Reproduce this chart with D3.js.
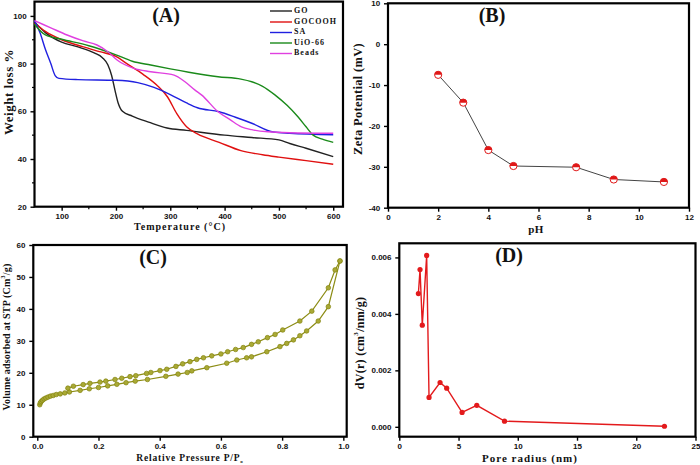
<!DOCTYPE html>
<html><head><meta charset="utf-8">
<script src="https://cdn.jsdelivr.net/npm/d3@7"></script>
<style>body{margin:0;background:#fff}svg{display:block}</style>
</head><body><svg id="c" width="700" height="465"></svg>
<script>
// ---------- Panel A: TGA (Temperature °C, Weight %) ----------
const tgaGO = [[50,97.5],[70,93],[100,89],[130,87],[160,84.5],[175,82.5],[185,79.5],[192,75],[198,69],[204,63.5],[212,60],[230,58],[260,55.5],[294,53],[330,52],[400,50],[450,49],[500,48],[520,46.5],[550,44.5],[600,41]];
const tgaGOCOOH = [[50,97],[70,93.5],[100,90],[140,87],[170,85],[200,83],[220,80],[250,75.5],[275,71],[295,66],[312,59],[330,53.5],[350,50.5],[390,47],[430,43.5],[470,41.8],[500,40.8],[550,39.3],[600,37.8]];
const tgaSA = [[50,98],[60,93],[70,86],[80,80],[88,75],[95,73.8],[130,73.3],[200,73],[240,72],[270,70],[300,67],[330,63.5],[350,61.5],[390,59.8],[420,57.5],[450,55],[490,51.3],[520,50.8],[600,50.2]];
const tgaUiO = [[50,96.5],[70,92],[100,90.2],[150,87.5],[200,83.7],[230,81],[264,79.4],[300,77.8],[334,76.4],[388,74.5],[430,73.5],[450,72.4],[470,70.5],[492,67],[515,62.5],[535,57.7],[550,53.5],[563,50],[580,48.3],[600,47]];
const tgaBeads = [[50,98],[80,95],[110,92],[140,89.5],[165,87.8],[185,85],[202,81.5],[233,78],[264,76.6],[307,75.2],[327,72.4],[345,69],[358,66.8],[388,59.8],[410,56.5],[431,53.5],[450,52.3],[480,51.4],[520,51],[600,50.8]];
const tgaNames = ["GO","GOCOOH","SA","UiO-66","Beads"];
const tgaColors = ["#222222","#e01010","#2020e0","#1a8a1a","#e040e0"];
const tgaXTicks = [100,200,300,400,500,600];
const tgaYTicks = [20,40,60,80,100];

// ---------- Panel B: Zeta potential ----------
const zetaPH = [2,3,4,5,7.5,9,11];
const zetaMV = [-7.5,-14.3,-25.9,-29.8,-30.1,-33.1,-33.7];
const zetaXTicks = [0,2,4,6,8,10,12];
const zetaYTicks = [-40,-30,-20,-10,0,10];

// ---------- Panel C: N2 isotherm ----------
const isoAds = [[0.008,10.0],[0.01,10.6],[0.013,11.0],[0.017,11.4],[0.022,11.8],[0.028,12.1],[0.035,12.4],[0.043,12.7],[0.052,12.9],[0.062,13.2],[0.075,13.4],[0.09,13.7],[0.105,14.0],[0.14,14.5],[0.17,15.0],[0.2,15.4],[0.23,15.9],[0.26,16.4],[0.29,16.9],[0.32,17.4],[0.36,17.9],[0.42,18.9],[0.46,19.6],[0.49,20.1],[0.505,20.6],[0.554,21.6],[0.619,23.0],[0.652,24.0],[0.684,24.7],[0.7,25.0],[0.75,26.6],[0.793,28.2],[0.815,29.2],[0.837,30.3],[0.858,31.6],[0.88,33.1],[0.918,36.2],[0.951,40.7],[0.989,55.0]];
const isoDes = [[0.989,55.0],[0.973,52.2],[0.951,46.6],[0.897,39.3],[0.858,36.2],[0.802,33.4],[0.777,32.0],[0.752,31.0],[0.722,29.7],[0.7,28.9],[0.673,27.9],[0.648,27.3],[0.622,26.6],[0.6,25.9],[0.57,25.3],[0.543,24.7],[0.521,24.2],[0.499,23.5],[0.475,22.8],[0.453,22.0],[0.423,21.1],[0.401,20.7],[0.371,20.1],[0.357,19.8],[0.322,19.1],[0.303,18.8],[0.276,18.3],[0.254,17.9],[0.224,17.4],[0.205,17.1],[0.172,16.7],[0.15,16.3],[0.118,15.8],[0.1,15.2]];
const isoXTicks = [0,0.2,0.4,0.6,0.8,1.0];
const isoYTicks = [0,10,20,30,40,50,60];

// ---------- Panel D: pore size distribution ----------
const poreR = [1.61,1.75,1.94,2.31,2.51,3.44,4.0,5.3,6.54,8.88,22.38];
const poreDV = [0.00472,0.00557,0.0036,0.00607,0.00104,0.00157,0.00137,0.00051,0.00076,0.0002,0.00002];
const poreXTicks = [0,5,10,15,20,25];
const poreYTicks = [0,0.002,0.004,0.006];

const svg = d3.select("#c");
const SERIF = "'Liberation Serif','Times New Roman',serif";
const SANS = "'Liberation Sans',Arial,sans-serif";

function panel(o){
  const x = d3.scaleLinear().domain(o.xd).range(o.xr);
  const y = d3.scaleLinear().domain(o.yd).range(o.yr);
  const g = svg.append("g");
  if(o.xMinor){
    g.selectAll(null).data(o.xMinor).join("line")
      .attr("x1",d=>x(d)).attr("x2",d=>x(d)).attr("y1",o.yr[0]).attr("y2",o.yr[0]+2.5)
      .attr("stroke","#000").attr("stroke-width",1.2);
  }
  if(o.yMinor){
    g.selectAll(null).data(o.yMinor).join("line")
      .attr("y1",d=>y(d)).attr("y2",d=>y(d)).attr("x1",o.xr[0]).attr("x2",o.xr[0]-2.5)
      .attr("stroke","#000").attr("stroke-width",1.2);
  }
  const ax = g.append("g").attr("transform",`translate(0,${o.yr[0]})`)
    .call(d3.axisBottom(x).tickValues(o.xt).tickSize(4).tickPadding(2).tickSizeOuter(0).tickFormat(o.xf||(d=>String(d))));
  const ay = g.append("g").attr("transform",`translate(${o.xr[0]},0)`)
    .call(d3.axisLeft(y).tickValues(o.yt).tickSize(4).tickSizeOuter(0).tickFormat(o.yf||(d=>String(d))));
  [ax,ay].forEach(a=>{
    a.select(".domain").remove();
    a.selectAll(".tick line").attr("stroke","#000").attr("stroke-width",1.4);
    a.selectAll(".tick text").attr("font-family",SANS).attr("font-weight","bold").attr("font-size","8px").attr("fill","#111");
  });
  ax.selectAll(".tick text").attr("dy","0.8em");
  ay.selectAll(".tick text").attr("dx","-0.1em");
  g.append("rect").attr("x",o.xr[0]).attr("y",o.yr[1])
    .attr("width",o.xr[1]-o.xr[0]).attr("height",o.yr[0]-o.yr[1])
    .attr("fill","none").attr("stroke","#000").attr("stroke-width",2.2);
  return {x,y,g};
}
function label(txt,x,y,size,rot,ls){
  const t = svg.append("text").attr("x",0).attr("y",0)
    .attr("transform",`translate(${x},${y})`+(rot?" rotate(-90)":""))
    .attr("text-anchor","middle").attr("dominant-baseline","middle")
    .attr("font-family",SERIF).attr("font-weight","bold").attr("font-size",size+"px")
    .attr("letter-spacing",(ls||0)+"px").attr("fill","#111");
  return t.text(txt);
}

// ----- Panel A -----
const A = panel({xd:[50,618],xr:[34.5,343],yd:[20,106],yr:[206.7,1.6],
  xt:tgaXTicks,yt:tgaYTicks,xMinor:[150,250,350,450,550],yMinor:[30,50,70,90]});
const tgaAll = [tgaGO,tgaGOCOOH,tgaSA,tgaUiO,tgaBeads];
const lineA = d3.line().x(d=>A.x(d[0])).y(d=>A.y(d[1])).curve(d3.curveMonotoneX);
tgaAll.forEach((s,i)=>{
  A.g.append("path").attr("d",lineA(s)).attr("fill","none")
    .attr("stroke",tgaColors[i]).attr("stroke-width",1.4);
});
const legRows = [11,22,32.5,43,53.5];
tgaNames.forEach((n,i)=>{
  A.g.append("line").attr("x1",270).attr("x2",292).attr("y1",legRows[i]).attr("y2",legRows[i])
    .attr("stroke",tgaColors[i]).attr("stroke-width",1.4);
  A.g.append("text").attr("x",294).attr("y",legRows[i]).attr("dominant-baseline","middle")
    .attr("font-family",SERIF).attr("font-weight","bold").attr("font-size","8px")
    .attr("letter-spacing","1px").attr("fill","#111").text(n);
});
label("(A)",166,17,20,false,0);
label("Weight loss %",10,92,13,true,0.5);
label("Temperature (°C)",180,228,10,false,1);

// ----- Panel B -----
const B = panel({xd:[0,12],xr:[388,689],yd:[-40,10],yr:[207.7,3.3],xt:zetaXTicks,yt:zetaYTicks});
const zetaPts = zetaPH.map((p,i)=>[p,zetaMV[i]]);
B.g.append("path").attr("d",d3.line().x(d=>B.x(d[0])).y(d=>B.y(d[1]))(zetaPts))
  .attr("fill","none").attr("stroke","#444").attr("stroke-width",1);
const r = 3.6;
zetaPts.forEach(d=>{
  const cx=B.x(d[0]), cy=B.y(d[1]);
  B.g.append("circle").attr("cx",cx).attr("cy",cy).attr("r",r).attr("fill","#fff").attr("stroke","#e01818").attr("stroke-width",1);
  B.g.append("path").attr("d",`M${cx-r},${cy} A${r},${r} 0 0 1 ${cx+r},${cy} Z`).attr("fill","#e01818");
});
label("(B)",492,17,20,false,0);
label("Zeta Potential (mV)",359,99,12.5,true,0.3);
label("pH",536,230,11,false,0.5);

// ----- Panel C -----
const C = panel({xd:[-0.013,1.011],xr:[33.3,346.7],yd:[0,60],yr:[436.7,245],xt:isoXTicks,yt:isoYTicks,xf:d3.format(".1f")});
const lineC = d3.line().x(d=>C.x(d[0])).y(d=>C.y(d[1]));
[isoAds,isoDes].forEach(s=>{
  C.g.append("path").attr("d",lineC(s)).attr("fill","none").attr("stroke","#8c8c14").attr("stroke-width",1.2);
  C.g.selectAll(null).data(s).join("circle").attr("cx",d=>C.x(d[0])).attr("cy",d=>C.y(d[1]))
    .attr("r",2.3).attr("fill","#a9a935").attr("stroke","#84840f").attr("stroke-width",0.7);
});
label("(C)",153,259,20,false,0);
const lc = label("",8,337,10,true,0.2);
lc.append("tspan").text("Volume adsorbed at STP (Cm");
lc.append("tspan").attr("font-size","6px").attr("dy","-4").text("3");
lc.append("tspan").attr("dy","4").text("/g)");
const lx = label("",190,458.5,9.5,false,0.8);
lx.append("tspan").text("Relative Pressure P/P");
lx.append("tspan").attr("font-size","5px").attr("dy","3").text("o");

// ----- Panel D -----
const D = panel({xd:[0,25],xr:[399.3,695.5],yd:[-0.00035,0.0065],yr:[436.7,243.3],xt:poreXTicks,yt:poreYTicks,yf:d3.format(".3f")});
const porePts = poreR.map((p,i)=>[p,poreDV[i]]);
D.g.append("path").attr("d",d3.line().x(d=>D.x(d[0])).y(d=>D.y(d[1]))(porePts))
  .attr("fill","none").attr("stroke","#e31a1c").attr("stroke-width",1.4);
D.g.selectAll(null).data(porePts).join("circle").attr("cx",d=>D.x(d[0])).attr("cy",d=>D.y(d[1]))
  .attr("r",2.6).attr("fill","#e31a1c");
label("(D)",509,257,20,false,0);
const ld = label("",361,343,12,true,0.3);
ld.append("tspan").text("dV(r) (cm");
ld.append("tspan").attr("font-size","7px").attr("dy","-5").text("3");
ld.append("tspan").attr("dy","5").text("/nm/g)");
label("Pore radius (nm)",530,459,11,false,1);
</script></body></html>
